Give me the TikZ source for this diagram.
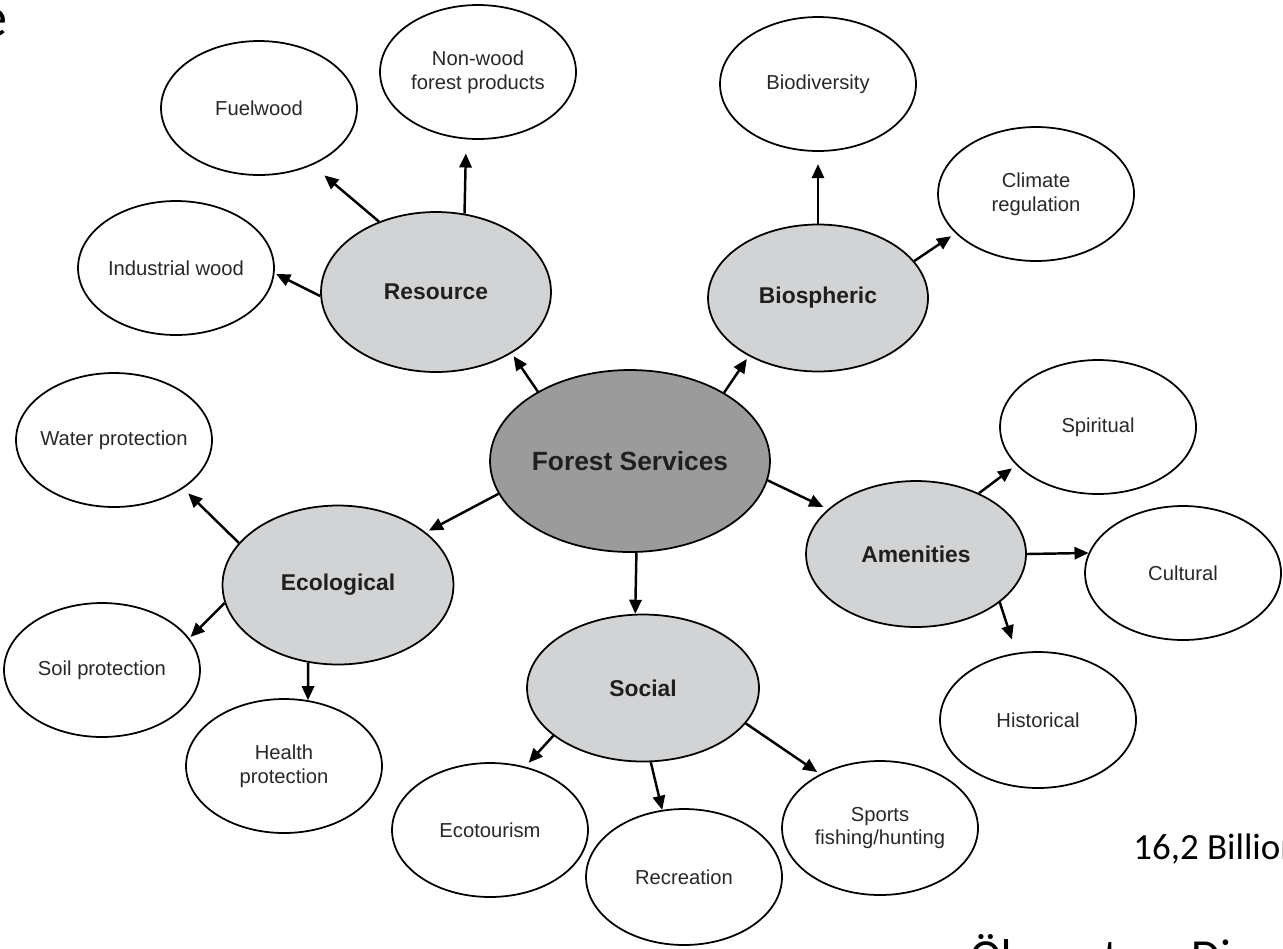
\documentclass[tikz,border=0pt]{standalone}
\usepackage{fontspec}
\setmainfont{Liberation Sans}
\newfontfamily\slidefont{Carlito}
\usetikzlibrary{shapes.geometric,arrows.meta}
\definecolor{hubgray}{RGB}{210,211,213}
\definecolor{coregray}{RGB}{155,155,155}
\definecolor{labelgray}{RGB}{40,40,40}
\tikzset{
	leaf/.style={ellipse, draw, line width=1pt, fill=white, minimum width=3.92cm, minimum height=2.68cm, inner xsep=-10pt, inner ysep=0pt, align=center, text=labelgray, font=\fontsize{11.5}{13.5}\selectfont},
	hub/.style={ellipse, draw, line width=1pt, fill=hubgray, inner xsep=-10pt, inner ysep=0pt, text=black!88, font=\fontsize{13}{15}\selectfont\bfseries},
	link/.style={->, line width=1.4pt},
	slide/.style={inner sep=0pt, text=black, font=\slidefont}
}
\begin{document}
\begin{tikzpicture}[x=0.02cm, y=-0.02cm, >={Stealth[length=8pt,width=7pt,inset=0pt]}, line join=round]
			%% Khung
			\def\wmax{1283}
			\def\hmax{948}
			\useasboundingbox (0,0) rectangle (\wmax,\hmax);
			\clip (0,0) rectangle (\wmax,\hmax);
			%% Nut trung tam va cac nhom
			\node [hub, fill=coregray, minimum width=5.6cm, minimum height=3.64cm, font=\fontsize{15}{17}\selectfont\bfseries] (fs) at (630,461) {Forest Services};
			\node [hub, minimum width=4.6cm, minimum height=3.2cm] (res) at (436,292) {Resource};
			\node [hub, minimum width=4.4cm, minimum height=2.94cm] (bio) at (818,298) {Biospheric};
			\node [hub, minimum width=4.62cm, minimum height=3.18cm] (eco) at (338,585) {Ecological};
			\node [hub, minimum width=4.64cm, minimum height=2.94cm] (soc) at (643,688) {Social};
			\node [hub, minimum width=4.4cm, minimum height=2.92cm] (amen) at (916,554) {Amenities};
			%% Cac dich vu
			\node [leaf] (fuel) at (259,108) {Fuelwood};
			\node [leaf] (nonwood) at (478,72) {Non-wood\\forest products};
			\node [leaf] (indwood) at (176,268) {Industrial wood};
			\node [leaf] (biodiv) at (818,84) {Biodiversity};
			\node [leaf] (climate) at (1036,194) {Climate\\regulation};
			\node [leaf] (water) at (114,440) {Water protection};
			\node [leaf] (soil) at (102,670) {Soil protection};
			\node [leaf] (health) at (284,766) {Health\\protection};
			\node [leaf] (ecotour) at (490,830) {Ecotourism};
			\node [leaf, minimum height=2.72cm] (recr) at (684,877) {Recreation};
			\node [leaf] (sports) at (880,828) {Sports\\fishing/hunting};
			\node [leaf] (spirit) at (1098,427) {Spiritual};
			\node [leaf] (cult) at (1183,573) {Cultural};
			\node [leaf, minimum height=2.72cm] (hist) at (1038,720) {Historical};
			%% Mui ten
			\draw [link, shorten >=2pt] (fs.143.5) -- (res.-39.5);
			\draw [link, shorten >=2pt] (fs.36.5) -- (bio.220);
			\draw [link, shorten >=2pt] (fs.194) -- (eco.31.8);
			\draw [link] (fs.-86.5) -- (soc.96);
			\draw [link, shorten >=3pt] (fs.-8.5) -- (amen.153);
			\draw [link, shorten >=9pt] (res.129) -- (fuel.-47.6);
			\draw [link, shorten >=8pt] (res.70) -- (nonwood.-100);
			\draw [link, shorten >=1pt] (res.182.5) -- (indwood.-3);
			\draw [link, shorten >=7pt] (bio.90) -- (biodiv.-90);
			\draw [link, shorten >=3pt] (bio.21.4) -- (climate.206.6);
			\draw [link, shorten >=4pt] (eco.157.3) -- (water.-35.6);
			\draw [link, shorten >=1pt] (eco.189) -- (soil.20.4);
			\draw [link] (eco.-111) -- (health.70);
			\draw [link, shorten >=3pt] (soc.208) -- (ecotour.61.4);
			\draw [link] (soc.-84.6) -- (recr.108);
			\draw [link, shorten >=2pt] (soc.-19.8) -- (sports.138);
			\draw [link, shorten >=3pt] (amen.44.5) -- (spirit.205.5);
			\draw [link] (amen.0) -- (cult.168);
			\draw [link, shorten >=8pt] (amen.-30) -- (hist.108);
			%% Chu cua trang chieu
			\node [slide, anchor=base east, font=\slidefont\fontsize{32}{38}\selectfont] (title) at (8,36) {e};
			\node [slide, anchor=base west, font=\slidefont\fontsize{21}{25}\selectfont] (value) at (1133,859) {16,2 Billion};
			\node [slide, anchor=base west, font=\slidefont\fontsize{27}{32}\selectfont] (caption) at (970,972) {Ökosystem Di};
		\end{tikzpicture}
\end{document}
